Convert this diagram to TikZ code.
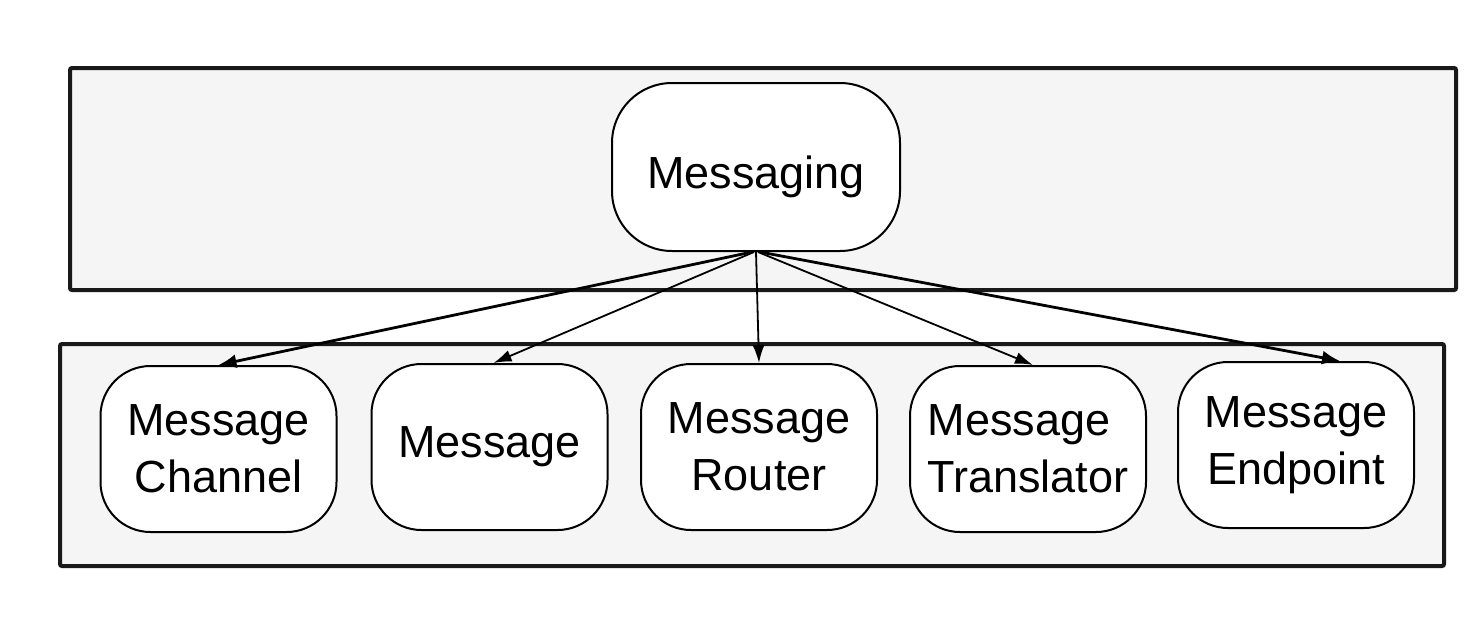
\documentclass[tikz,border=0pt]{standalone}
\usepackage{fontspec}
\setmainfont{Liberation Sans}
\usetikzlibrary{arrows.meta,calc}
\begin{document}
\begin{tikzpicture}[x=0.5pt,y=-0.5pt,
  layer/.style={draw=black!90,line width=2pt,fill=black!4,rounded corners=1pt},
  topnode/.style={draw,line width=1pt,fill=white,rounded corners=30pt,minimum width=144pt,minimum height=84pt,inner sep=0pt,font=\fontsize{22.5}{28}\selectfont},
  subnode/.style={draw,line width=1pt,fill=white,rounded corners=25pt,minimum width=118pt,minimum height=83pt,inner sep=0pt,align=center,font=\fontsize{22.5}{28.5}\selectfont},
  thickarr/.style={line width=1.4pt,-{Latex[length=9pt,width=7pt]}},
  thinarr/.style={line width=0.9pt,-{Latex[length=9pt,width=6pt]}}
]
\useasboundingbox (0,0) rectangle (1482,632);
\draw[layer] (70,68) rectangle (1456,290);
\draw[layer] (60,344) rectangle (1444,566);
\node[topnode,text height=21pt,text depth=0pt] (msg) at (756,167) {Messaging};
\node[subnode] (chan) at (218.5,449) {Message\\Channel};
\node[subnode] (mes) at (489.5,447) {Message};
\node[subnode] (rout) at (759,447) {Message\\Router};
\node[subnode,align=left] (trans) at (1028,449) {Message\\Translator};
\node[subnode] (endp) at (1296,445) {Message\\Endpoint};
\draw[thickarr] ($(msg.south)+(-4,0)$) -- (chan.north);
\draw[thinarr] ($(msg.south)+(-2,0)$) -- ($(mes.north)+(4,0)$);
\draw[thinarr] (msg.south) -- (rout.north);
\draw[thinarr] ($(msg.south)+(2,0)$) -- ($(trans.north)+(5,0)$);
\draw[thickarr] ($(msg.south)+(4,0)$) -- ($(endp.north)+(44,0)$);
\end{tikzpicture}
\end{document}
